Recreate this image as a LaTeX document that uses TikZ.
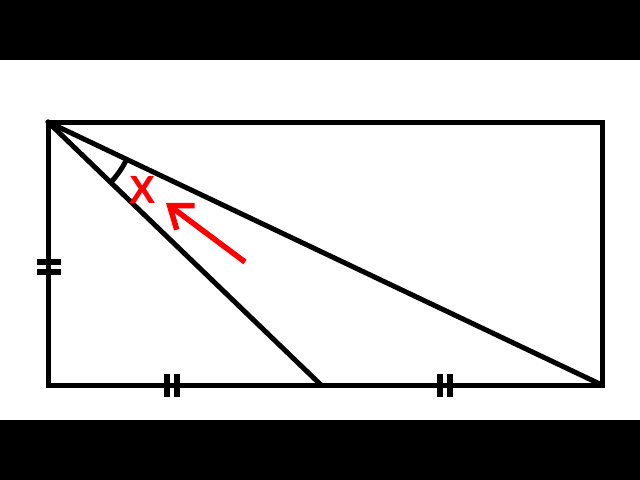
\documentclass[tikz,border=0pt]{standalone}
\usepackage{fontspec}
\setmainfont{Liberation Sans}
\usetikzlibrary{arrows.meta,calc}

\begin{document}
\begin{tikzpicture}[x=0.025cm,y=-0.025cm]
	\tikzstyle{edge}=[line width=5*0.025cm, line join=round, line cap=round]
	\tikzstyle{tick}=[line width=5.5*0.025cm]
	\tikzstyle{pointer}=[line width=5.5*0.025cm, red, -{Straight Barb[length=0.5cm,width=0.75cm]}]
	\useasboundingbox (0,0) rectangle (640,480);
	% black bars
	\fill [black] (0,0) rectangle (640,60);
	\fill [black] (0,420) rectangle (640,480);
	% corners
	\coordinate (A) at (48,122);
	\coordinate (B) at (602,122);
	\coordinate (C) at (602,385);
	\coordinate (D) at (48,385);
	\coordinate (M) at (321,385);
	\draw [edge, line cap=rect, line join=miter] (A) -- (B) -- (C) -- (D) -- cycle;
	\draw [edge] (A) -- (C);
	\draw [edge] (A) -- (M);
	% angle
	\draw [line width=5*0.025cm] ($(A)+(25.4:87)$) arc[start angle=25.4, end angle=44, radius=87];
	% equal marks
	\draw [tick] (37,262) -- (61,262);
	\draw [tick] (37,272) -- (61,272);
	\draw [tick] (167,374) -- (167,397);
	\draw [tick] (177,374) -- (177,397);
	\draw [tick] (440,374) -- (440,397);
	\draw [tick] (450,374) -- (450,397);
	% label
	\node [red, font=\fontsize{28}{28}\selectfont\bfseries] (x) at (143,190) {X};
	\coordinate (tail) at (245,262);
	\coordinate (tip) at (166,203);
	\draw [pointer] (tail) -- (tip);
\end{tikzpicture}
\end{document}
